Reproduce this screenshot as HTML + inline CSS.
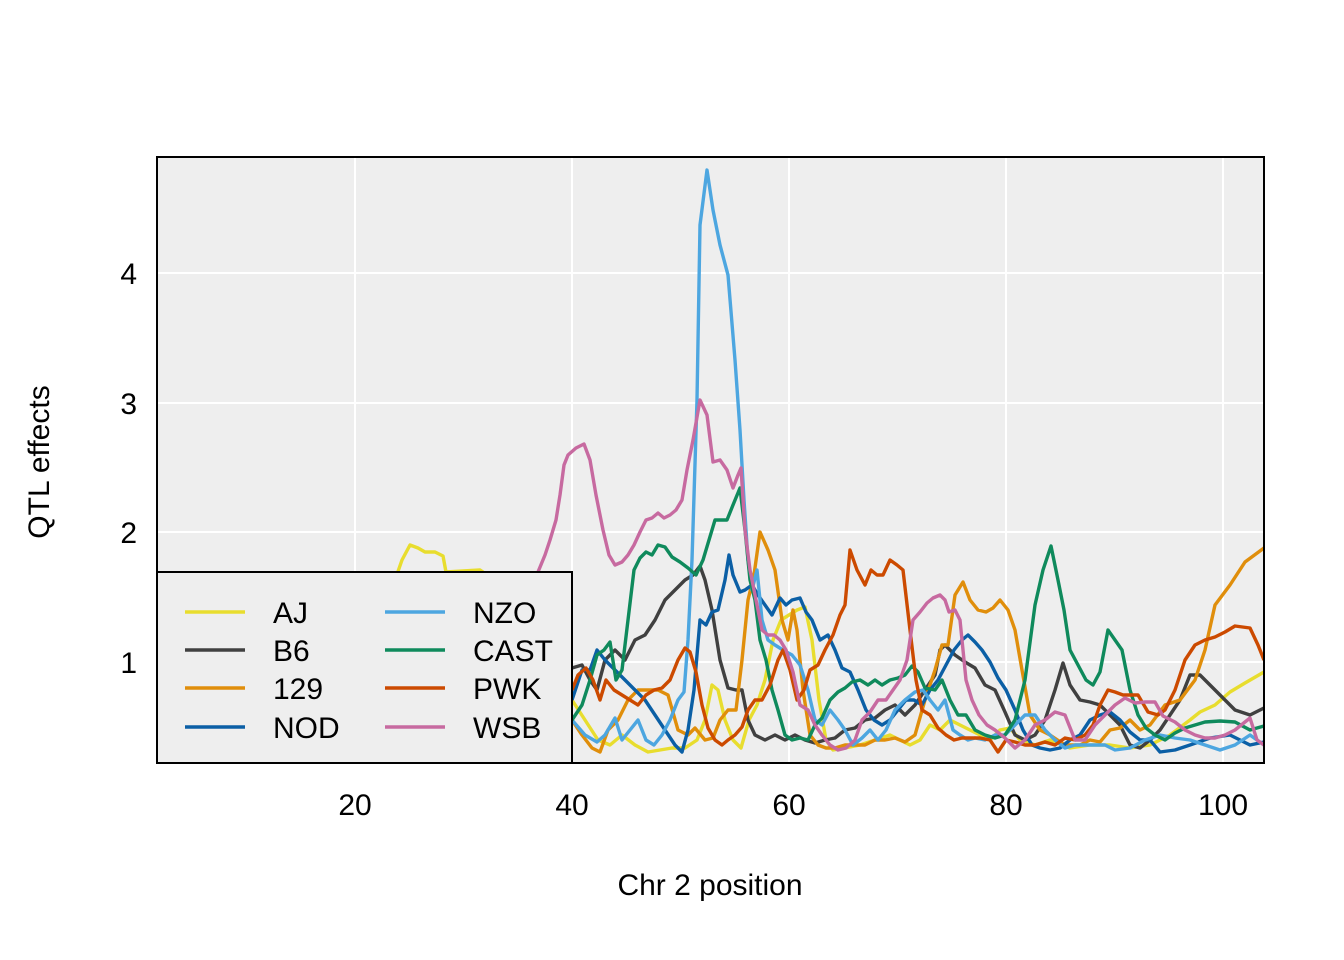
<!DOCTYPE html>
<html><head><meta charset="utf-8"><style>body{margin:0;background:#fff}svg{display:block}</style></head><body>
<svg width="1344" height="960" viewBox="0 0 1344 960" xmlns="http://www.w3.org/2000/svg" font-family="Liberation Sans, Arial, sans-serif">
<defs><clipPath id="c"><rect x="157" y="157" width="1107" height="606"/></clipPath></defs>
<rect x="157" y="157" width="1107" height="606" fill="#eeeeee"/>
<g stroke="#fff" stroke-width="2">
<line x1="355" y1="157" x2="355" y2="763"/><line x1="572" y1="157" x2="572" y2="763"/><line x1="789" y1="157" x2="789" y2="763"/><line x1="1006" y1="157" x2="1006" y2="763"/><line x1="1223" y1="157" x2="1223" y2="763"/>
<line x1="157" y1="273" x2="1264" y2="273"/><line x1="157" y1="403" x2="1264" y2="403"/><line x1="157" y1="532" x2="1264" y2="532"/><line x1="157" y1="662" x2="1264" y2="662"/>
</g>
<g clip-path="url(#c)" fill="none" stroke-width="3.4" stroke-linejoin="round">
<polyline stroke="#e8dd2e" points="395,580 402,560 410,545 418,548 425,552 435,552 443,556 446,572 480,570 483,572 572,700 585,720 598,740 610,745 622,735 635,745 648,752 660,750 672,748 685,748 697,740 705,720 712,685 718,690 725,720 733,740 741,748 749,720 757,705 765,680 773,640 781,620 789,615 797,610 805,607 812,640 819,700 826,740 833,750 845,748 860,745 875,740 890,735 900,740 910,745 920,740 930,725 940,730 950,720 960,725 970,730 980,735 990,740 1000,730 1010,728 1020,740 1035,745 1050,740 1070,748 1090,745 1110,745 1130,748 1150,745 1170,735 1190,720 1200,712 1215,705 1230,692 1245,683 1264,672"/>
<polyline stroke="#404040" points="572,668 582,665 590,680 597,690 605,660 615,650 625,660 635,640 645,635 655,620 665,600 675,590 685,580 693,575 700,566 705,580 712,610 720,660 728,688 736,690 742,690 748,720 755,735 765,740 775,735 785,740 795,735 805,740 815,743 825,740 835,738 845,730 855,728 865,720 875,718 885,710 895,705 905,715 915,705 925,690 935,675 940,650 945,645 955,655 965,662 975,668 985,685 995,690 1005,712 1015,735 1025,740 1035,735 1045,720 1055,690 1063,663 1070,685 1080,700 1090,702 1100,705 1110,715 1120,725 1130,745 1140,748 1150,740 1160,730 1170,715 1180,700 1190,675 1200,675 1210,685 1220,695 1235,710 1250,715 1264,708"/>
<polyline stroke="#e08e0b" points="572,720 582,735 592,748 600,752 608,730 618,720 628,700 638,690 648,690 658,690 668,695 678,730 688,735 695,728 705,740 713,738 720,720 728,710 736,710 742,660 748,600 754,575 760,532 768,550 775,570 782,620 788,640 793,610 797,630 803,690 810,735 818,745 826,748 835,748 845,745 855,745 865,745 875,740 885,740 895,738 905,742 915,735 925,700 935,670 942,645 948,645 955,595 963,582 970,600 978,610 986,612 993,608 1000,600 1008,610 1015,630 1022,670 1030,715 1040,730 1050,735 1065,745 1080,745 1090,740 1100,742 1110,730 1120,728 1130,720 1140,730 1150,725 1165,705 1180,700 1195,680 1205,650 1215,605 1230,585 1245,562 1264,548"/>
<polyline stroke="#0b5fa5" points="572,700 582,670 590,670 597,650 605,660 615,670 625,680 635,690 645,700 655,715 665,730 675,745 682,752 688,730 694,690 700,620 706,625 712,612 718,610 725,580 729,555 733,575 740,592 745,590 752,585 758,595 765,605 772,615 780,598 786,605 792,600 800,598 806,612 812,620 820,640 828,635 835,650 842,668 850,672 858,690 866,710 874,720 882,725 890,720 898,710 906,700 914,700 922,705 930,690 938,680 946,665 954,650 962,640 968,635 975,642 982,650 990,662 998,678 1006,690 1015,710 1023,730 1032,745 1040,748 1050,750 1060,748 1070,740 1080,735 1090,720 1100,715 1110,712 1120,720 1130,732 1140,740 1150,740 1160,752 1175,750 1190,745 1210,738 1230,735 1250,745 1264,742"/>
<polyline stroke="#4da6e0" points="572,720 585,735 597,742 605,735 615,718 622,740 630,730 638,720 646,740 654,745 662,735 670,720 678,700 684,692 688,640 692,560 697,400 700,225 707,170 713,210 720,245 728,275 735,360 740,430 744,500 748,560 752,590 757,570 762,620 768,640 775,645 783,650 792,655 800,665 808,690 815,720 822,725 830,710 838,720 845,730 853,745 862,738 870,730 878,740 886,730 895,710 905,700 915,692 923,690 930,700 938,710 945,700 953,730 960,735 968,740 975,738 985,740 995,735 1005,735 1015,725 1025,715 1035,715 1045,730 1055,740 1065,748 1075,745 1085,745 1095,745 1105,745 1115,750 1130,748 1145,740 1160,735 1175,738 1190,740 1205,745 1220,750 1235,745 1250,735 1264,745"/>
<polyline stroke="#0f8a5c" points="572,720 582,705 590,680 597,655 604,650 610,642 616,680 622,670 628,620 634,570 640,558 646,552 652,555 658,545 665,547 672,557 680,562 688,568 696,575 703,560 709,540 715,520 721,520 727,520 733,505 740,488 745,530 750,580 755,600 760,640 766,660 772,690 778,710 785,735 792,740 800,738 808,740 815,725 822,718 830,700 838,692 845,688 852,682 860,680 868,685 875,680 882,685 890,680 898,678 905,675 912,666 918,672 925,688 935,690 942,680 950,700 958,715 966,715 975,730 985,735 995,738 1005,735 1015,720 1025,680 1035,605 1043,570 1051,546 1058,580 1064,610 1070,650 1078,665 1086,680 1093,685 1100,672 1108,630 1115,640 1122,650 1130,690 1138,715 1146,728 1155,735 1165,740 1175,733 1185,728 1195,725 1205,722 1220,721 1235,722 1250,730 1264,726"/>
<polyline stroke="#cc4a00" points="572,690 578,675 586,668 593,680 600,700 606,680 614,690 622,695 630,700 638,705 646,695 654,690 662,688 670,680 678,660 685,648 690,652 696,672 702,705 708,728 715,740 722,745 728,740 735,735 742,727 748,710 755,700 762,700 770,685 778,660 783,650 790,670 797,700 804,690 810,670 818,665 825,650 833,635 840,615 845,605 850,550 857,570 865,585 871,570 877,575 883,575 890,560 897,565 903,570 910,630 916,680 922,710 930,715 938,728 946,735 954,740 962,738 970,738 980,738 990,740 998,752 1006,740 1015,742 1025,745 1035,745 1045,742 1055,745 1065,738 1075,740 1085,735 1093,725 1100,705 1108,690 1115,692 1123,695 1130,695 1138,695 1148,712 1158,715 1165,710 1175,690 1185,660 1195,645 1205,640 1215,637 1225,632 1235,626 1250,628 1258,645 1264,660"/>
<polyline stroke="#c76aa0" points="538,572 545,555 550,540 556,520 560,495 564,465 568,455 576,448 584,444 590,460 596,495 603,530 609,555 615,565 622,562 628,555 634,545 640,532 646,520 652,518 658,513 664,518 670,515 676,510 682,500 687,470 693,440 700,400 707,415 713,462 720,460 727,470 733,488 738,475 741,468 745,530 750,570 756,600 762,630 768,635 774,635 780,640 786,650 793,672 800,705 808,710 815,725 822,735 830,745 838,750 846,748 855,740 862,720 870,712 878,700 886,700 893,690 900,680 907,660 913,620 920,612 927,603 933,598 940,595 945,600 949,612 955,610 960,620 966,680 972,700 979,715 987,725 995,730 1005,738 1015,748 1025,740 1035,725 1045,720 1055,712 1065,715 1075,740 1085,740 1095,725 1105,715 1115,705 1125,698 1135,703 1145,702 1155,702 1163,716 1175,722 1185,730 1195,735 1205,738 1215,738 1225,735 1235,730 1245,722 1250,718 1257,740 1264,745"/>
</g>
<rect x="157" y="572" width="415" height="191" fill="#eeeeee" stroke="#000" stroke-width="2"/>
<g stroke-width="3.4">
<line x1="185" y1="612" x2="245" y2="612" stroke="#e8dd2e"/><line x1="185" y1="650" x2="245" y2="650" stroke="#404040"/><line x1="185" y1="688" x2="245" y2="688" stroke="#e08e0b"/><line x1="185" y1="727" x2="245" y2="727" stroke="#0b5fa5"/>
<line x1="385" y1="612" x2="445" y2="612" stroke="#4da6e0"/><line x1="385" y1="650" x2="445" y2="650" stroke="#0f8a5c"/><line x1="385" y1="688" x2="445" y2="688" stroke="#cc4a00"/><line x1="385" y1="727" x2="445" y2="727" stroke="#c76aa0"/>
</g>
<g font-size="30" fill="#000">
<text x="273" y="623">AJ</text><text x="273" y="661">B6</text><text x="273" y="699">129</text><text x="273" y="738">NOD</text>
<text x="473" y="623">NZO</text><text x="473" y="661">CAST</text><text x="473" y="699">PWK</text><text x="473" y="738">WSB</text>
</g>
<rect x="157" y="157" width="1107" height="606" fill="none" stroke="#000" stroke-width="2"/>
<g font-size="30" fill="#000" text-anchor="middle">
<text x="355" y="815">20</text><text x="572" y="815">40</text><text x="789" y="815">60</text><text x="1006" y="815">80</text><text x="1223" y="815">100</text>
<text x="710" y="895">Chr 2 position</text>
</g>
<g font-size="30" fill="#000" text-anchor="end">
<text x="137" y="284">4</text><text x="137" y="414">3</text><text x="137" y="543">2</text><text x="137" y="673">1</text>
</g>
<text x="49" y="462" font-size="30" text-anchor="middle" transform="rotate(-90 49 462)">QTL effects</text>
</svg>
</body></html>
